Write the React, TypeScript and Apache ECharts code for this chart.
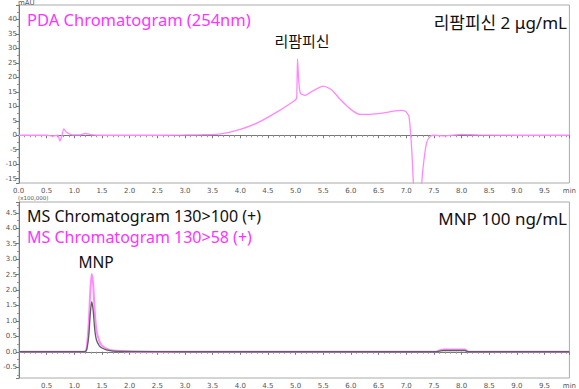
import React, { useEffect, useRef } from "react";
import * as echarts from "echarts";

// PDA chromatogram (254nm), time in min, absorbance in mAU
const pdaTime = [0, 0.5, 0.6, 0.7, 0.74, 0.77, 0.81, 0.86, 0.93, 1.0, 1.1, 1.2, 1.3, 1.5, 2.0, 2.5, 3.0, 3.3, 3.6, 3.82, 4.0, 4.3, 4.66, 4.99, 5.02, 5.035, 5.06, 5.09, 5.17, 5.3, 5.5, 5.65, 5.8, 5.98, 6.16, 6.5, 6.8, 6.9, 6.99, 7.05, 7.1, 7.14, 7.2, 7.26, 7.3, 7.37, 7.44, 7.5, 7.7, 8.0, 8.3, 9.0, 9.95];
const pdaValue = [0, 0, -0.3, 0, -2.0, -0.5, 2.2, 1.0, 0.3, 0.1, 0.1, 0.6, 0.2, 0, 0, 0, 0.1, 0.2, 0.4, 1.1, 2.0, 4.2, 8.0, 12.1, 13.0, 26.4, 18.0, 14.4, 13.8, 15.2, 17.0, 15.7, 12.5, 9.2, 7.2, 7.5, 8.4, 8.6, 8.2, 6.5, -5, -20, -30, -22, -12, -2.5, -0.3, 0, -0.2, 0.3, 0.1, 0, 0];

// MS chromatograms (x100,000)
const msTime = [0, 1.18, 1.22, 1.26, 1.29, 1.315, 1.34, 1.37, 1.4, 1.45, 1.5, 1.58, 1.7, 2.0, 3.0, 7.55, 7.62, 7.68, 8.06, 8.12, 9.95];
const ms100 = [0, 0, 0.05, 0.5, 1.25, 1.62, 1.35, 0.7, 0.38, 0.2, 0.12, 0.06, 0.02, 0.01, 0, 0, 0.03, 0.04, 0.04, 0, 0];
const ms58 = [0, 0, 0.08, 0.9, 2.0, 2.52, 2.2, 1.3, 0.7, 0.35, 0.2, 0.1, 0.04, 0.01, 0, 0.01, 0.06, 0.07, 0.07, 0.01, 0];

const X_MAX = 9.95;
const FONT = "'Noto Sans', 'Noto Sans CJK KR', sans-serif";
const TICK_FONT = "'DejaVu Sans', sans-serif";

function pairs(xs: number[], ys: number[]) {
  return xs.map((x, i) => [x, ys[i]]);
}

export default function App() {
  const ref = useRef<HTMLDivElement>(null);
  useEffect(() => {
    if (!ref.current) return;
    const chart = echarts.init(ref.current, undefined, { renderer: "svg" });
    const axisLine = { show: true, lineStyle: { color: "#777", width: 1 } };
    const tickStyle = { show: true, length: 3, lineStyle: { color: "#777" } };
    const minorTick = { show: true, splitNumber: 5, length: 2, lineStyle: { color: "#999" } };
    const labelStyle = { fontSize: 7, color: "#555", fontFamily: TICK_FONT };
    const xAxisBase = (gi: number) => ({
      gridIndex: gi,
      type: "value",
      min: 0,
      max: X_MAX,
      interval: 0.5,
      axisLine,
      axisTick: tickStyle,
      minorTick,
      splitLine: { show: false },
      axisLabel: {
        ...labelStyle,
        margin: 4,
        showMaxLabel: true,
        formatter: (v: number) => {
          if (Math.abs(v - X_MAX) < 1e-6) return "min";
          if (v === 0) return "";
          return v.toFixed(1);
        },
      },
    });
    chart.setOption({
      animation: false,
      textStyle: { fontFamily: FONT },
      grid: [
        { left: 19, top: 5, right: 5, height: 178, show: true, borderColor: "#aaa", borderWidth: 1 },
        { left: 19, top: 202, right: 5, height: 176, show: true, borderColor: "#aaa", borderWidth: 1 },
      ],
      xAxis: [xAxisBase(0), xAxisBase(1)],
      yAxis: [
        {
          gridIndex: 0,
          type: "value",
          min: -16.5,
          max: 45,
          splitNumber: 12,
          axisLine,
          axisTick: tickStyle,
          minorTick: { ...minorTick, splitNumber: 2 },
          splitLine: { show: false },
          axisLabel: {
            ...labelStyle,
            margin: 2,
            formatter: (v: number) => (v === 45 || v % 5 !== 0 ? "" : String(v)),
          },
        },
        {
          gridIndex: 1,
          type: "value",
          min: -0.85,
          max: 4.85,
          splitNumber: 11,
          axisLine,
          axisTick: tickStyle,
          minorTick: { ...minorTick, splitNumber: 2 },
          splitLine: { show: false },
          axisLabel: {
            ...labelStyle,
            margin: 2,
            formatter: (v: number) => (Math.abs(Math.round(v * 2) - v * 2) > 1e-6 ? "" : v.toFixed(1)),
          },
        },
      ],
      series: [
        {
          type: "line",
          xAxisIndex: 0,
          yAxisIndex: 0,
          data: pairs(pdaTime, pdaValue),
          symbol: "none",
          smooth: 0.2,
          lineStyle: { color: "#ff88ff", width: 1.3 },
        },
        {
          type: "line",
          xAxisIndex: 1,
          yAxisIndex: 1,
          data: pairs(msTime, ms58),
          symbol: "none",
          smooth: 0.25,
          lineStyle: { color: "#ff8cff", width: 2 },
        },
        {
          type: "line",
          xAxisIndex: 1,
          yAxisIndex: 1,
          data: pairs(msTime, ms100),
          symbol: "none",
          smooth: 0.25,
          lineStyle: { color: "#606060", width: 1.3 },
        },
      ],
      graphic: [
        { type: "text", left: 18, top: -1, style: { text: "mAU", fontSize: 7, fill: "#555", fontFamily: TICK_FONT } },
        { type: "text", left: 13, top: 187, z: 100, style: { text: "0.0", fontSize: 7, fill: "#555", fontFamily: TICK_FONT } },
        { type: "text", left: 18, top: 195, style: { text: "(x100,000)", fontSize: 5.5, fill: "#555", fontFamily: TICK_FONT } },
        { type: "text", x: 27, y: 19, style: { text: "PDA Chromatogram (254nm)", fontSize: 16.5, fill: "#ff33ff", fontFamily: FONT, verticalAlign: "middle" } },
        { type: "text", x: 567, y: 22, style: { text: "리팜피신 2 μg/mL", fontSize: 17, fill: "#111", fontFamily: FONT, align: "right", verticalAlign: "middle" } },
        { type: "text", x: 302, y: 41, style: { text: "리팜피신", fontSize: 15, fill: "#111", fontFamily: FONT, align: "center", verticalAlign: "middle" } },
        { type: "text", x: 27, y: 216, style: { text: "MS Chromatogram 130>100 (+)", fontSize: 16, fill: "#111", fontFamily: FONT, verticalAlign: "middle" } },
        { type: "text", x: 27, y: 237, style: { text: "MS Chromatogram 130>58 (+)", fontSize: 16, fill: "#ff33ff", fontFamily: FONT, verticalAlign: "middle" } },
        { type: "text", x: 567, y: 218, style: { text: "MNP 100 ng/mL", fontSize: 17, fill: "#111", fontFamily: FONT, align: "right", verticalAlign: "middle" } },
        { type: "text", x: 96, y: 262, style: { text: "MNP", fontSize: 15.5, fill: "#111", fontFamily: FONT, align: "center", verticalAlign: "middle" } },
      ],
    });
    return () => chart.dispose();
  }, []);
  return <div ref={ref} style={{ position: "fixed", left: 0, top: 0, width: 579, height: 389, background: "#fff" }} />;
}
